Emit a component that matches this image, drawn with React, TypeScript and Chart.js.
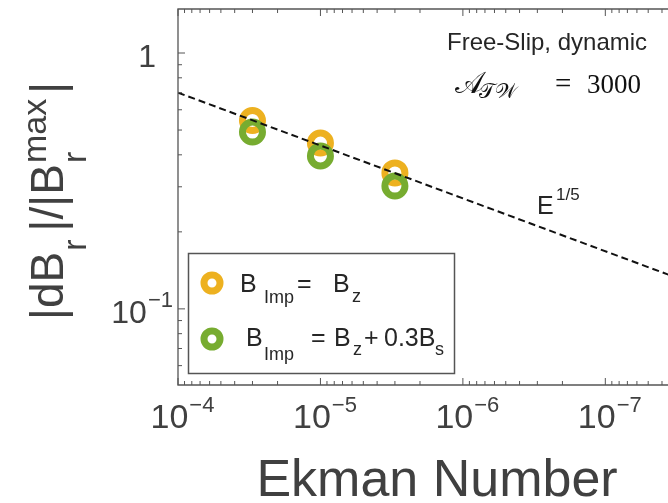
import React, { useEffect, useRef } from "react";
import { Chart, registerables } from "chart.js";

Chart.register(...registerables);

// ---- data ----
const ekmanNumbers = [3e-5, 1e-5, 3e-6];
const bzValues = [0.545, 0.445, 0.34];
const bzBsValues = [0.491, 0.396, 0.302];
const fitEkman = [1e-4, 3.6e-8];
const fitValues = [0.7, 0.136];

const xTickValues = [1e-4, 1e-5, 1e-6, 1e-7];
const xTickBases = ["10", "10", "10", "10"];
const xTickExps = ["\u22124", "\u22125", "\u22126", "\u22127"];
const yTickValues = [1, 0.1];
const yTickBases = ["1", "10"];
const yTickExps = ["", "\u22121"];

const X_MIN = 3.63e-8;
const X_MAX = 1e-4;
const Y_MIN = 0.0504;
const Y_MAX = 1.486;

const ORANGE = "#EDB120";
const GREEN = "#77AC30";
const AXIS = "#555555";
const LABEL = "#404040";
const TEXT = "#262626";
const SANS = '"Liberation Sans", Arial, Helvetica, sans-serif';
const SERIF = '"Liberation Serif", "DejaVu Serif", serif';

function txt(ctx: CanvasRenderingContext2D, s: string, x: number, y: number, size: number, color: string, family = SANS, style = "") {
  ctx.font = `${style} ${size}px ${family}`.trim();
  ctx.fillStyle = color;
  ctx.textAlign = "left";
  ctx.textBaseline = "alphabetic";
  ctx.fillText(s, x, y);
  return ctx.measureText(s).width;
}

const overlayPlugin = {
  id: "overlay",
  afterDraw(chart: any) {
    const ctx: CanvasRenderingContext2D = chart.ctx;
    const { left, top, right, bottom } = chart.chartArea;
    const xs = chart.scales.x;
    const ys = chart.scales.y;
    ctx.save();

    // axis box (left, top, bottom)
    ctx.strokeStyle = AXIS;
    ctx.lineWidth = 1.3;
    ctx.beginPath();
    ctx.moveTo(right + 2, top);
    ctx.lineTo(left, top);
    ctx.lineTo(left, bottom);
    ctx.lineTo(right + 2, bottom);
    ctx.stroke();

    // ticks
    ctx.lineWidth = 1;
    const xTick = (v: number, len: number) => {
      const px = xs.getPixelForValue(v);
      if (px < left - 0.5 || px > right + 0.5) return;
      ctx.beginPath();
      ctx.moveTo(px, bottom);
      ctx.lineTo(px, bottom - len);
      ctx.moveTo(px, top);
      ctx.lineTo(px, top + len);
      ctx.stroke();
    };
    const yTick = (v: number, len: number) => {
      const py = ys.getPixelForValue(v);
      if (py < top - 0.5 || py > bottom + 0.5) return;
      ctx.beginPath();
      ctx.moveTo(left, py);
      ctx.lineTo(left + len, py);
      ctx.stroke();
    };
    for (let d = -8; d <= -4; d++) {
      for (let k = 1; k <= 9; k++) {
        const v = k * Math.pow(10, d);
        if (v >= X_MIN && v <= X_MAX) xTick(v, k === 1 ? 7 : 4);
      }
    }
    for (let d = -2; d <= 0; d++) {
      for (let k = 1; k <= 9; k++) {
        const v = k * Math.pow(10, d);
        if (v >= Y_MIN && v <= Y_MAX) yTick(v, k === 1 ? 7 : 4);
      }
    }

    // x tick labels
    xTickValues.forEach((v, i) => {
      const px = xs.getPixelForValue(v);
      ctx.font = `34px ${SANS}`;
      const wb = ctx.measureText(xTickBases[i]).width;
      ctx.font = `22px ${SANS}`;
      const we = ctx.measureText(xTickExps[i]).width;
      const x0 = px + 4 - (wb + we) / 2;
      txt(ctx, xTickBases[i], x0, 428, 34, LABEL);
      txt(ctx, xTickExps[i], x0 + wb + 1, 412, 22, LABEL);
    });

    // y tick labels
    yTickValues.forEach((v, i) => {
      const py = ys.getPixelForValue(v);
      ctx.font = `32px ${SANS}`;
      const wb = ctx.measureText(yTickBases[i]).width;
      ctx.font = `22px ${SANS}`;
      const we = yTickExps[i] ? ctx.measureText(yTickExps[i]).width : 0;
      if (yTickExps[i]) {
        const x0 = left - 5 - we - wb - 1;
        txt(ctx, yTickBases[i], x0, py + 14, 32, LABEL);
        txt(ctx, yTickExps[i], x0 + wb + 1, py - 2, 22, LABEL);
      } else {
        txt(ctx, yTickBases[i], left - 22 - wb, py + 14, 32, LABEL);
      }
    });

    // x axis title
    ctx.font = `52px ${SANS}`;
    const wt = ctx.measureText("Ekman Number").width;
    txt(ctx, "Ekman Number", 437 - wt / 2, 496, 52, LABEL);

    // y axis title (rotated)
    ctx.save();
    ctx.translate(63, 320);
    ctx.rotate(-Math.PI / 2);
    let cx = 0;
    cx += txt(ctx, "|dB", cx, 0, 46, LABEL);
    const wr1 = txt(ctx, "r", cx + 1, 23, 34, LABEL);
    cx += wr1 + 9;
    cx += txt(ctx, "|/|B", cx, 0, 46, LABEL);
    txt(ctx, "r", cx + 1, 23, 34, LABEL);
    const wmax = txt(ctx, "max", cx + 1, -17, 34, LABEL);
    cx += wmax + 6;
    txt(ctx, "|", cx, 0, 46, LABEL);
    ctx.restore();

    // annotations
    txt(ctx, "Free-Slip, dynamic", 447, 50, 24, TEXT);
    txt(ctx, "\u{1D49C}", 455, 93, 30, "#111111", SERIF);
    txt(ctx, "\u{1D4AF}\u{1D4B2}", 479, 98, 21, "#111111", SERIF);
    txt(ctx, "=", 555, 93, 29, "#111111", SERIF);
    txt(ctx, "3000", 587, 93, 27, "#111111", SERIF);

    txt(ctx, "E", 537, 214, 25, TEXT);
    txt(ctx, "1/5", 556, 200, 17, TEXT);

    // legend
    ctx.fillStyle = "#ffffff";
    ctx.fillRect(188, 253, 266, 120);
    ctx.strokeStyle = AXIS;
    ctx.lineWidth = 1.5;
    ctx.strokeRect(188.5, 253.5, 266, 120);
    const ring = (x: number, y: number, c: string) => {
      ctx.beginPath();
      ctx.strokeStyle = c;
      ctx.lineWidth = 7;
      ctx.arc(x, y, 8, 0, Math.PI * 2);
      ctx.stroke();
    };
    ring(212, 283, ORANGE);
    ring(212, 339, GREEN);
    txt(ctx, "B", 240, 292, 25, TEXT);
    txt(ctx, "Imp", 264, 303, 18, TEXT);
    txt(ctx, "=", 297, 292, 25, TEXT);
    txt(ctx, "B", 333, 292, 25, TEXT);
    txt(ctx, "z", 352, 302, 18, TEXT);

    txt(ctx, "B", 246, 346, 25, TEXT);
    txt(ctx, "Imp", 264, 360, 18, TEXT);
    txt(ctx, "=", 311, 346, 25, TEXT);
    txt(ctx, "B", 334, 346, 25, TEXT);
    txt(ctx, "z", 353, 355, 18, TEXT);
    txt(ctx, "+", 364, 346, 25, TEXT);
    txt(ctx, "0.3B", 384, 346, 25, TEXT);
    txt(ctx, "s", 435, 355, 18, TEXT);

    ctx.restore();
  },
};

export default function App() {
  const ref = useRef<HTMLCanvasElement | null>(null);
  useEffect(() => {
    if (!ref.current) return;
    const chart = new Chart(ref.current, {
      type: "scatter",
      data: {
        datasets: [
          {
            label: "E^1/5",
            data: fitEkman.map((x, i) => ({ x, y: fitValues[i] })),
            showLine: true,
            borderColor: "#111111",
            borderWidth: 2,
            borderDash: [7, 4],
            pointRadius: 0,
            fill: false,
          },
          {
            label: "B_Imp = B_z + 0.3B_s",
            data: ekmanNumbers.map((x, i) => ({ x, y: bzBsValues[i] })),
            showLine: false,
            pointRadius: 10,
            pointBorderWidth: 7,
            borderColor: GREEN,
            pointBorderColor: GREEN,
            backgroundColor: "rgba(0,0,0,0)",
            pointBackgroundColor: "rgba(0,0,0,0)",
          },
          {
            label: "B_Imp = B_z",
            data: ekmanNumbers.map((x, i) => ({ x, y: bzValues[i] })),
            showLine: false,
            pointRadius: 10,
            pointBorderWidth: 7,
            borderColor: ORANGE,
            pointBorderColor: ORANGE,
            backgroundColor: "rgba(0,0,0,0)",
            pointBackgroundColor: "rgba(0,0,0,0)",
          },
        ],
      },
      options: {
        responsive: false,
        animation: false,
        devicePixelRatio: 1,
        layout: { autoPadding: false, padding: { left: 178, top: 9, right: 0, bottom: 118 } },
        plugins: { legend: { display: false }, tooltip: { enabled: false } },
        scales: {
          x: { type: "logarithmic", reverse: true, min: X_MIN, max: X_MAX, display: false },
          y: { type: "logarithmic", min: Y_MIN, max: Y_MAX, display: false },
        },
      },
      plugins: [overlayPlugin],
    } as any);
    return () => chart.destroy();
  }, []);
  return (
    <div style={{ position: "fixed", left: 0, top: 0, width: 668, height: 503, background: "#ffffff" }}>
      <canvas ref={ref} width={668} height={503} style={{ display: "block", width: 668, height: 503 }} />
    </div>
  );
}
